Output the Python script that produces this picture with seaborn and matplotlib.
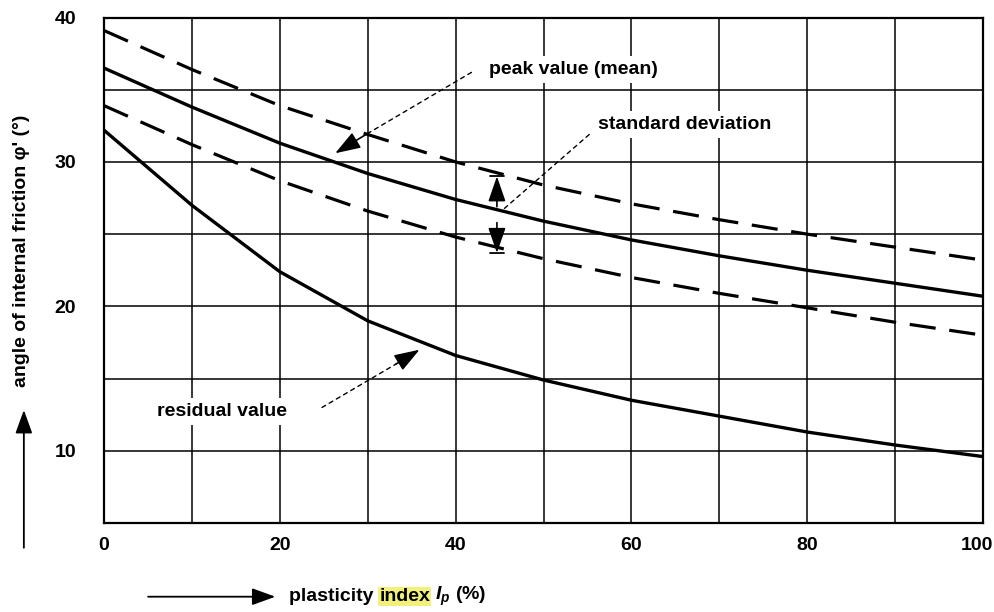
import matplotlib

matplotlib.use("Agg")
import matplotlib.pyplot as plt
from matplotlib.patches import FancyArrowPatch
from matplotlib.transforms import ScaledTranslation
import pandas as pd
import seaborn as sns

# values
plasticity_index = [0, 10, 20, 30, 40, 50, 60, 70, 80, 90, 100]
peak_mean = [36.5, 33.8, 31.3, 29.2, 27.4, 25.9, 24.6, 23.5, 22.5, 21.6, 20.7]
peak_upper = [39.1, 36.4, 33.9, 31.9, 30.0, 28.4, 27.1, 26.0, 25.0, 24.1, 23.2]
peak_lower = [33.9, 31.2, 28.7, 26.6, 24.8, 23.3, 22.0, 20.9, 19.9, 18.9, 18.0]
residual = [32.2, 27.0, 22.4, 19.0, 16.6, 14.9, 13.5, 12.4, 11.3, 10.4, 9.6]

x_ticks = [0, 20, 40, 60, 80, 100]
y_ticks = [10, 20, 30, 40]

df = pd.DataFrame(
    {
        "ip": plasticity_index,
        "mean": peak_mean,
        "upper": peak_upper,
        "lower": peak_lower,
        "residual": residual,
    }
)

sns.set_theme(style="white")
plt.rcParams["font.family"] = ["Liberation Sans", "DejaVu Sans"]
plt.rcParams["text.color"] = "black"
plt.rcParams["mathtext.fontset"] = "custom"
plt.rcParams["mathtext.it"] = "Liberation Sans:bold:italic"
plt.rcParams["mathtext.rm"] = "Liberation Sans:bold"

fig = plt.figure(figsize=(9.94, 6.12), dpi=100)
ax = fig.add_axes([0.1046, 0.1454, 0.8844, 0.826])

dash = (0, (8.2, 4.3))
sns.lineplot(data=df, x="ip", y="mean", color="black", lw=2.4, ax=ax)
sns.lineplot(data=df, x="ip", y="residual", color="black", lw=2.4, ax=ax)
sns.lineplot(data=df, x="ip", y="upper", color="black", lw=2.3, linestyle=dash, ax=ax)
sns.lineplot(data=df, x="ip", y="lower", color="black", lw=2.3, linestyle=dash, ax=ax)

ax.set_xlim(0, 100)
ax.set_ylim(5, 40)
ax.set_xticks(range(0, 101, 10))
ax.set_yticks(range(5, 41, 5))
ax.grid(True, color="black", lw=1.1)
ax.set_xticklabels([str(v) if v in x_ticks else "" for v in range(0, 101, 10)])
ax.set_yticklabels([str(v) if v in y_ticks else "" for v in range(5, 41, 5)])
ax.tick_params(length=0, labelsize=14, colors="black")
ax.tick_params(axis="x", pad=10)
ax.tick_params(axis="y", pad=20)
for lab in ax.get_xticklabels() + ax.get_yticklabels():
    lab.set_fontweight("bold")
# last x label sits against the right edge
last = ax.get_xticklabels()[-1]
last.set_horizontalalignment("right")
last.set_transform(last.get_transform() + ScaledTranslation(0.1, 0, fig.dpi_scale_trans))
for side in ax.spines.values():
    side.set_color("black")
    side.set_linewidth(1.6)
ax.set_xlabel("")
ax.set_ylabel("")

label_box = dict(boxstyle="square,pad=0.25", fc="white", ec="none")
dotted = dict(arrowstyle="-", color="black", lw=1.0, linestyle=(0, (3, 3)),
              shrinkA=0, shrinkB=0)
solid_head = dict(arrowstyle="-|>,head_length=1.3,head_width=0.45", color="black", lw=1.2,
                  shrinkA=0, shrinkB=0)
note = dict(fontsize=14, fontweight="bold", va="center", bbox=label_box, zorder=5)


def pointer(tail, joint, tip):
    # dotted leader ending in a solid arrow head
    ax.annotate("", xy=joint, xytext=tail, arrowprops=dotted, zorder=4)
    ax.annotate("", xy=tip, xytext=joint, arrowprops=solid_head, zorder=4)


ax.text(43.8, 36.4, "peak value (mean)", **note)
pointer((41.8, 36.2), (29.8, 31.9), (26.3, 30.6))

ax.text(56.2, 32.6, "standard deviation", **note)
ax.annotate("", xy=(45.4, 26.7), xytext=(55.2, 31.9), arrowprops=dotted, zorder=4)

ax.text(6.0, 12.7, "residual value", **note)
pointer((24.8, 13.0), (33.2, 16.0), (35.9, 17.0))

ax.annotate("", xy=(44.7, 29.0), xytext=(44.7, 26.9), arrowprops=solid_head)
ax.annotate("", xy=(44.7, 23.7), xytext=(44.7, 25.8), arrowprops=solid_head)
ax.plot([43.9, 45.5], [29.0, 29.0], color="black", lw=1.3)
ax.plot([43.9, 45.5], [23.7, 23.7], color="black", lw=1.3)

# axis captions with direction arrows
fig.text(0.022, 0.59, "angle of internal friction φ' (°)", rotation=90, fontsize=14,
         fontweight="bold", ha="center", va="center")
for tail, tip in [((0.024, 0.105), (0.024, 0.33)), ((0.149, 0.025), (0.277, 0.025))]:
    fig.add_artist(FancyArrowPatch(tail, tip, transform=fig.transFigure, color="black",
                                   lw=1.3, mutation_scale=13, shrinkA=0, shrinkB=0,
                                   arrowstyle="-|>,head_length=1.1,head_width=0.4"))

t1 = fig.text(0.291, 0.025, "plasticity ", fontsize=14, fontweight="bold", va="center")
t2 = fig.text(0, 0, "index", fontsize=14, fontweight="bold", va="center",
              bbox=dict(boxstyle="square,pad=0.05", fc="#f0f07a", ec="none"))
t3 = fig.text(0, 0, r" $I_p$ (%)", fontsize=14, fontweight="bold", va="center")
fig.canvas.draw()
r = fig.canvas.get_renderer()
bb1 = t1.get_window_extent(r)
t2.set_position((bb1.x1 / fig.bbox.width, 0.025))
fig.canvas.draw()
bb2 = t2.get_window_extent(r)
t3.set_position((bb2.x1 / fig.bbox.width, 0.025))

fig.savefig("out.png", dpi=100)
